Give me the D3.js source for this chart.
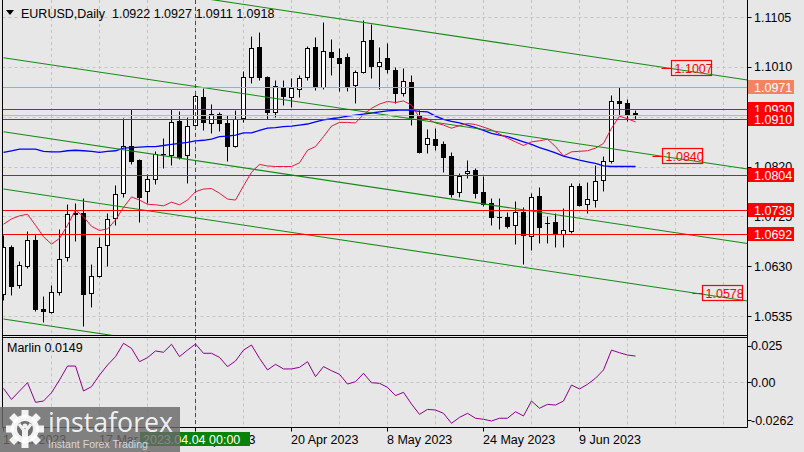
<!DOCTYPE html>
<html><head><meta charset="utf-8">
<script src="https://cdn.jsdelivr.net/npm/d3@7/dist/d3.min.js"></script>
<style>
body{margin:0;background:#e7e7e7;}
svg{display:block;}
text{font-family:"Liberation Sans",Arial,sans-serif;}
</style>
</head><body>
<svg id="c" width="804" height="452"></svg>
<script>
// ---------------- DATA ----------------
const symbolTitle = "EURUSD,Daily";
const lastOHLC = ["1.0922", "1.0927", "1.0911", "1.0918"];

const opens  = [1.0577,1.0666,1.0595,1.0630,1.0680,1.0549,1.0543,1.0580,1.0647,1.0729,
                1.0731,1.0578,1.0612,1.0670,1.0721,1.0769,1.0859,1.0832,1.0774,1.0797,
                1.0843,1.0842,1.0907,1.0841,1.0899,1.0952,1.0902,1.0921,1.0902,1.0860,
                1.0912,1.0991,1.1047,1.0990,1.0923,1.0970,1.0953,1.0967,1.0991,1.1047,
                1.0972,1.1039,1.1026,1.1028,1.0975,1.1001,1.1061,1.1012,1.1026,1.1004,
                1.0960,1.0982,1.0916,1.0862,1.0872,1.0863,1.0840,1.0771,1.0807,1.0813,
                1.0772,1.0751,1.0724,1.0724,1.0708,1.0733,1.0687,1.0764,1.0712,1.0715,
                1.0691,1.0697,1.0782,1.0748,1.0756,1.0794,1.0830,1.0945,1.0941,1.0922];
const highs  = [1.0689,1.0671,1.0640,1.0697,1.0691,1.0573,1.0594,1.0700,1.0748,1.0751,
                1.0759,1.0635,1.0686,1.0732,1.0785,1.0912,1.0929,1.0834,1.0806,1.0850,
                1.0874,1.0929,1.0925,1.0915,1.0958,1.0969,1.0939,1.0924,1.0918,1.0927,
                1.1003,1.1069,1.1076,1.0992,1.0985,1.0985,1.0989,1.0994,1.1050,1.1067,
                1.1096,1.1064,1.1045,1.1036,1.1004,1.1099,1.1092,1.1047,1.1056,1.1009,
                1.1008,1.0995,1.0928,1.0891,1.0893,1.0869,1.0848,1.0808,1.0832,1.0818,
                1.0802,1.0759,1.0759,1.0734,1.0754,1.0742,1.0769,1.0781,1.0726,1.0731,
                1.0741,1.0789,1.0789,1.0791,1.0823,1.0840,1.0956,1.0971,1.0948,1.0927];
const lows   = [1.0565,1.0575,1.0588,1.0626,1.0545,1.0524,1.0540,1.0575,1.0640,1.0678,
                1.0516,1.0552,1.0610,1.0631,1.0709,1.0762,1.0825,1.0714,1.0751,1.0787,
                1.0818,1.0823,1.0835,1.0788,1.0895,1.0890,1.0884,1.0888,1.0831,1.0858,
                1.0905,1.0979,1.0985,1.0910,1.0915,1.0937,1.0934,1.0953,1.0985,1.0965,
                1.0968,1.0994,1.0963,1.0963,1.0942,1.0998,1.0989,1.0967,1.0999,1.0942,
                1.0955,1.0900,1.0846,1.0845,1.0852,1.0810,1.0761,1.0761,1.0799,1.0760,
                1.0745,1.0708,1.0701,1.0703,1.0672,1.0635,1.0661,1.0674,1.0674,1.0667,
                1.0667,1.0693,1.0744,1.0732,1.0743,1.0774,1.0827,1.0919,1.0907,1.0911];
const closes = [1.0667,1.0593,1.0633,1.0680,1.0548,1.0545,1.0581,1.0643,1.0729,1.0732,
                1.0576,1.0612,1.0666,1.0719,1.0768,1.0859,1.0831,1.0761,1.0797,1.0843,
                1.0844,1.0905,1.0839,1.0897,1.0954,1.0904,1.0921,1.0902,1.0860,1.0910,
                1.0990,1.1045,1.0991,1.0924,1.0973,1.0954,1.0969,1.0988,1.1045,1.0972,
                1.1041,1.1028,1.1018,1.0974,1.1001,1.1060,1.1012,1.1019,1.1005,1.0961,
                1.0983,1.0915,1.0848,1.0874,1.0861,1.0839,1.0768,1.0802,1.0811,1.0769,
                1.0748,1.0724,1.0724,1.0707,1.0733,1.0689,1.0761,1.0705,1.0712,1.0691,
                1.0699,1.0782,1.0747,1.0758,1.0793,1.0830,1.0945,1.0941,1.0921,1.0918];

// fast moving average (red) and slow moving average (blue)
const maFast = [1.0710,1.0720,1.0726,1.0729,1.0708,1.0686,1.0672,1.0683,1.0708,1.0737,
                1.0724,1.0706,1.0698,1.0701,1.0718,1.0742,1.0762,1.0756,1.0748,1.0747,
                1.0745,1.0752,1.0747,1.0756,1.0772,1.0777,1.0778,1.0769,1.0758,1.0756,
                1.0783,1.0809,1.0824,1.0821,1.0820,1.0820,1.0820,1.0827,1.0851,1.0858,
                1.0877,1.0897,1.0904,1.0904,1.0903,1.0919,1.0931,1.0939,1.0944,1.0942,
                1.0945,1.0937,1.0913,1.0911,1.0903,1.0899,1.0893,1.0898,1.0902,1.0900,
                1.0895,1.0890,1.0882,1.0874,1.0867,1.0860,1.0867,1.0869,1.0872,1.0858,
                1.0840,1.0848,1.0849,1.0850,1.0855,1.0864,1.0893,1.0916,1.0911,1.0905];
const maSlow = [1.0847,1.0850,1.0853,1.0853,1.0853,1.0849,1.0848,1.0848,1.0850,1.0851,
                1.0850,1.0849,1.0847,1.0849,1.0850,1.0855,1.0856,1.0857,1.0858,1.0858,
                1.0860,1.0862,1.0864,1.0866,1.0869,1.0870,1.0872,1.0877,1.0878,1.0880,
                1.0884,1.0884,1.0889,1.0893,1.0894,1.0896,1.0897,1.0899,1.0901,1.0905,
                1.0909,1.0911,1.0913,1.0916,1.0918,1.0920,1.0922,1.0924,1.0926,1.0927,
                1.0928,1.0927,1.0925,1.0924,1.0916,1.0910,1.0906,1.0903,1.0899,1.0894,
                1.0889,1.0883,1.0880,1.0877,1.0872,1.0867,1.0862,1.0856,1.0851,1.0846,
                1.0840,1.0836,1.0832,1.0829,1.0826,1.0821,1.0820,1.0820,1.0820,1.0820];

// Marlin oscillator
const marlinLabel = "Marlin 0.0149";
const marlin = [-0.0044,-0.0120,-0.0062,-0.0005,-0.0140,-0.0131,-0.0074,0.0014,0.0110,0.0110,
                -0.0062,-0.0032,0.0048,0.0117,0.0175,0.0267,0.0232,0.0140,0.0168,0.0214,
                0.0205,0.0260,0.0175,0.0220,0.0262,0.0198,0.0198,0.0170,0.0106,0.0145,
                0.0220,0.0255,0.0163,0.0083,0.0122,0.0090,0.0090,0.0101,0.0140,0.0037,
                0.0106,0.0078,0.0053,-0.0014,0.0002,0.0060,-0.0005,-0.0009,-0.0037,-0.0094,
                -0.0071,-0.0152,-0.0223,-0.0189,-0.0193,-0.0216,-0.0285,-0.0244,-0.0216,-0.0250,
                -0.0257,-0.0269,-0.0250,-0.0250,-0.0205,-0.0234,-0.0131,-0.0181,-0.0154,-0.0159,
                -0.0131,-0.0021,-0.0048,-0.0016,0.0026,0.0083,0.0220,0.0202,0.0186,0.0179];

// axes
const priceTicks = [1.1105, 1.1010, 1.0915, 1.0820, 1.0725, 1.0630, 1.0535];
const marlinTicks = [0.025, 0.00, -0.0262];
const marlinTickLabels = ["0.025", "0.00", "-0.0262"];
const dateLabels = ["1 Mar 2023","17 Mar 2023","4 Apr 2023","20 Apr 2023","8 May 2023","24 May 2023","9 Jun 2023"];
const dateLabelBars = [0, 12, 24, 36, 48, 60, 72];
const crosshairBar = 24;
const crosshairLabel = "2023.04.04 00:00";

// horizontal levels
const redLevels = [1.0930, 1.0910, 1.0804, 1.0738, 1.0692];
const highLevel = 1.0971;
const bidPrice = 1.0918;

// parallel channel lines: price at bar 0 and at bar 93
const channelBars = [0, 93];
const channelStart = [1.11977, 1.10274, 1.08863, 1.07771, 1.05292];
const channelEnd   = [1.09849, 1.08152, 1.06732, 1.05635, 1.03157];
// price labels on channel lines
const trendLabelValues = [1.1007, 1.0840, 1.0578];
const trendLabelBars = [83.4, 82.3, 87.3];

// ---------------- DRAW ----------------
const svg = d3.select("#c");
const W = 804, H = 452;
const L = 2.5, R = 747.5, mainTop = 0, mainBot = 335.5, oscTop = 337.5, oscBot = 427.5;
const nSlots = 93;

const x = d3.scaleLinear().domain([0, nSlots]).range([3.5, 747.5]);
const y = d3.scaleLinear().domain([1.0535, 1.1105]).range([316, 17]);
const yo = d3.scaleLinear().domain([-0.0262, 0.025]).range([420, 345.75]);
const py = v => Math.round(y(v)) + 0.5;

svg.append("rect").attr("width", W).attr("height", H).attr("fill", "#e7e7e7");

const defs = svg.append("defs");
defs.append("clipPath").attr("id", "clipMain").append("rect")
  .attr("x", L).attr("y", mainTop).attr("width", R - L).attr("height", mainBot - mainTop);
defs.append("clipPath").attr("id", "clipOsc").append("rect")
  .attr("x", L).attr("y", oscTop).attr("width", R - L).attr("height", oscBot - oscTop);

const gridColor = "#c4c4c4";
const gridBars = d3.range(6, nSlots, 6);

// main grid
const gMain = svg.append("g").attr("clip-path", "url(#clipMain)");
gMain.selectAll(".hg").data(priceTicks).enter().append("line")
  .attr("x1", L).attr("x2", R).attr("y1", d => py(d)).attr("y2", d => py(d))
  .attr("stroke", gridColor).attr("stroke-dasharray", "3,3");
gMain.selectAll(".vg").data(gridBars).enter().append("line")
  .attr("x1", d => x(d)).attr("x2", d => x(d)).attr("y1", mainTop).attr("y2", mainBot)
  .attr("stroke", gridColor).attr("stroke-dasharray", "3,3");

// oscillator grid
const gOsc = svg.append("g").attr("clip-path", "url(#clipOsc)");
gOsc.append("line").attr("x1", L).attr("x2", R)
  .attr("y1", Math.round(yo(0)) + 0.5).attr("y2", Math.round(yo(0)) + 0.5)
  .attr("stroke", gridColor).attr("stroke-dasharray", "3,3");
gOsc.selectAll(".vg").data(gridBars).enter().append("line")
  .attr("x1", d => x(d)).attr("x2", d => x(d)).attr("y1", oscTop).attr("y2", oscBot)
  .attr("stroke", gridColor).attr("stroke-dasharray", "3,3");

// candles
const bars = d3.range(opens.length).map(i => ({i, o: opens[i], h: highs[i], l: lows[i], c: closes[i]}));
const gC = gMain.append("g");
gC.selectAll(".wick").data(bars).enter().append("line")
  .attr("x1", d => x(d.i)).attr("x2", d => x(d.i))
  .attr("y1", d => py(d.h)).attr("y2", d => py(d.l))
  .attr("stroke", "#000").attr("stroke-width", 1);
bars.forEach(d => {
  const yt = py(Math.max(d.o, d.c)), yb = py(Math.min(d.o, d.c));
  const cx = x(d.i);
  if (yb - yt < 1) {
    gC.append("line").attr("x1", cx - 2.5).attr("x2", cx + 2.5).attr("y1", yt).attr("y2", yt)
      .attr("stroke", "#000");
  } else {
    gC.append("rect").attr("x", cx - 2).attr("y", yt).attr("width", 4).attr("height", yb - yt)
      .attr("fill", d.c >= d.o ? "#ffffff" : "#000000").attr("stroke", "#000").attr("stroke-width", 1);
  }
});

// moving averages
const lineGen = d3.line().x((d, i) => x(i)).y(d => y(d));
gMain.append("path").datum(maSlow).attr("d", lineGen)
  .attr("fill", "none").attr("stroke", "#0000ff").attr("stroke-width", 1.3);
gMain.append("path").datum(maFast).attr("d", lineGen)
  .attr("fill", "none").attr("stroke", "#e8173f").attr("stroke-width", 1);

// channel lines
channelStart.forEach((p0, k) => {
  gMain.append("line")
    .attr("x1", x(channelBars[0])).attr("y1", y(p0))
    .attr("x2", x(channelBars[1])).attr("y2", y(channelEnd[k]))
    .attr("stroke", "#168a16").attr("stroke-width", 1.1);
});

// horizontal levels
gMain.append("line").attr("x1", L).attr("x2", R).attr("y1", py(highLevel)).attr("y2", py(highLevel))
  .attr("stroke", "#f2916e").attr("stroke-width", 1.2);
gMain.append("line").attr("x1", L).attr("x2", R).attr("y1", py(bidPrice)).attr("y2", py(bidPrice))
  .attr("stroke", "#b8b8b8").attr("stroke-width", 1);
gMain.selectAll(".lvl").data(redLevels).enter().append("line")
  .attr("x1", L).attr("x2", R).attr("y1", d => py(d)).attr("y2", d => py(d))
  .attr("stroke", "#ff0000").attr("stroke-width", 1.2);

// trend line price labels
trendLabelValues.forEach((v, k) => {
  const bx = Math.round(x(trendLabelBars[k])) + 0.5, cy = Math.round(y(v));
  gMain.append("line").attr("x1", bx - 10).attr("x2", bx).attr("y1", cy + 0.5).attr("y2", cy + 0.5)
    .attr("stroke", "#ff0000").attr("stroke-width", 1.2);
  gMain.append("rect").attr("x", bx).attr("y", cy - 7.5).attr("width", 40).attr("height", 15)
    .attr("fill", "none").attr("stroke", "#ff0000").attr("stroke-width", 1.2);
  gMain.append("text").attr("x", bx + 3).attr("y", cy + 5).attr("font-size", 12.5)
    .attr("fill", "#ff0000").text(v.toFixed(4));
});

// Marlin line
const oscLine = d3.line().x((d, i) => x(i)).y(d => yo(d));
gOsc.append("path").datum(marlin).attr("d", oscLine)
  .attr("fill", "none").attr("stroke", "#8b008b").attr("stroke-width", 1);

// crosshair
svg.append("line").attr("x1", x(crosshairBar)).attr("x2", x(crosshairBar))
  .attr("y1", 0).attr("y2", oscBot)
  .attr("stroke", "#008000").attr("stroke-dasharray", "4,3");

// panel frames
const frame = svg.append("g").attr("stroke", "#000").attr("stroke-width", 1).attr("fill", "none");
frame.append("line").attr("x1", L).attr("x2", L).attr("y1", 0).attr("y2", oscBot);
frame.append("line").attr("x1", R).attr("x2", R).attr("y1", 0).attr("y2", oscBot);
frame.append("line").attr("x1", L).attr("x2", R).attr("y1", mainBot).attr("y2", mainBot);
frame.append("line").attr("x1", L).attr("x2", R).attr("y1", oscTop).attr("y2", oscTop);
frame.append("line").attr("x1", L).attr("x2", R).attr("y1", oscBot).attr("y2", oscBot);

// price axis
const ax = svg.append("g");
priceTicks.forEach(t => {
  ax.append("line").attr("x1", R).attr("x2", R + 4).attr("y1", py(t)).attr("y2", py(t)).attr("stroke", "#000");
  ax.append("text").attr("x", 754).attr("y", y(t) + 4.5).attr("font-size", 12.5).attr("fill", "#000")
    .text(t.toFixed(4));
});
marlinTicks.forEach((t, k) => {
  ax.append("line").attr("x1", R).attr("x2", R + 4).attr("y1", Math.round(yo(t)) + 0.5).attr("y2", Math.round(yo(t)) + 0.5).attr("stroke", "#000");
  ax.append("text").attr("x", 751).attr("y", yo(t) + 4.5).attr("font-size", 12.5).attr("fill", "#000")
    .text(marlinTickLabels[k]);
});

// level price boxes on the axis
function axisBox(v, fill) {
  const cy = y(v);
  ax.append("rect").attr("x", 748).attr("y", Math.round(cy) - 7).attr("width", 46).attr("height", 14).attr("fill", fill);
  ax.append("text").attr("x", 754).attr("y", cy + 5).attr("font-size", 12.5).attr("fill", "#ffffff").text(v.toFixed(4));
}
axisBox(highLevel, "#f4845f");
redLevels.forEach(v => axisBox(v, "#ff0000"));

// date axis
dateLabelBars.forEach((b, k) => {
  ax.append("line").attr("x1", x(b)).attr("x2", x(b)).attr("y1", oscBot).attr("y2", oscBot + 4).attr("stroke", "#000");
  ax.append("text").attr("x", x(b) - 0.5).attr("y", 444).attr("font-size", 12.5).attr("fill", "#000").text(dateLabels[k]);
});
// crosshair date box
ax.append("rect").attr("x", 140).attr("y", 432).attr("width", 110).attr("height", 14).attr("fill", "#0a820a");
ax.append("text").attr("x", 143).attr("y", 444).attr("font-size", 12.5).attr("fill", "#ffffff").text(crosshairLabel);

// header
svg.append("path").attr("d", "M6,10 L14,10 L10,15 Z").attr("fill", "#000");
svg.append("text").attr("x", 21).attr("y", 17.5).attr("font-size", 12.5).attr("fill", "#000")
  .attr("xml:space", "preserve")
  .text(symbolTitle + "  " + lastOHLC.join(" "));

// oscillator label
svg.append("text").attr("x", 7).attr("y", 352).attr("font-size", 12.5).attr("fill", "#000").text(marlinLabel);

// watermark
const wm = svg.append("g");
wm.append("rect").attr("x", 0).attr("y", 407).attr("width", 180).attr("height", 45)
  .attr("fill", "rgba(105,105,105,0.82)");
const gcx = 25, gcy = 429;
const gear = wm.append("g").attr("fill", "rgba(255,255,255,0.9)");
d3.range(8).forEach(k => {
  gear.append("rect").attr("x", gcx - 3.5).attr("y", gcy - 19).attr("width", 7).attr("height", 8)
    .attr("transform", `rotate(${k * 45},${gcx},${gcy})`);
});
gear.append("circle").attr("cx", gcx).attr("cy", gcy).attr("r", 14);
wm.append("circle").attr("cx", gcx).attr("cy", gcy).attr("r", 8).attr("fill", "#6e6e6e");
wm.append("path").attr("d", `M${gcx-6},${gcy-5} L${gcx-1.5},${gcy+1} L${gcx-1.5},${gcy+13} L${gcx+1.5},${gcy+13} L${gcx+1.5},${gcy+1} L${gcx+6},${gcy-5}`)
  .attr("fill", "none").attr("stroke", "rgba(255,255,255,0.9)").attr("stroke-width", 3);
wm.append("circle").attr("cx", gcx).attr("cy", gcy - 3).attr("r", 2.5).attr("fill", "rgba(255,255,255,0.9)");
wm.append("text").attr("x", 48).attr("y", 432).attr("font-size", 27).attr("fill", "rgba(255,255,255,0.9)")
  .attr("textLength", 125).attr("lengthAdjust", "spacingAndGlyphs")
  .style("font-family", "'Open Sans', 'DejaVu Sans', sans-serif").text("instaforex");
wm.append("text").attr("x", 48).attr("y", 447.5).attr("font-size", 11).attr("fill", "rgba(230,230,230,0.85)")
  .attr("textLength", 100).attr("lengthAdjust", "spacingAndGlyphs").text("Instant Forex Trading");
</script>
</body></html>
